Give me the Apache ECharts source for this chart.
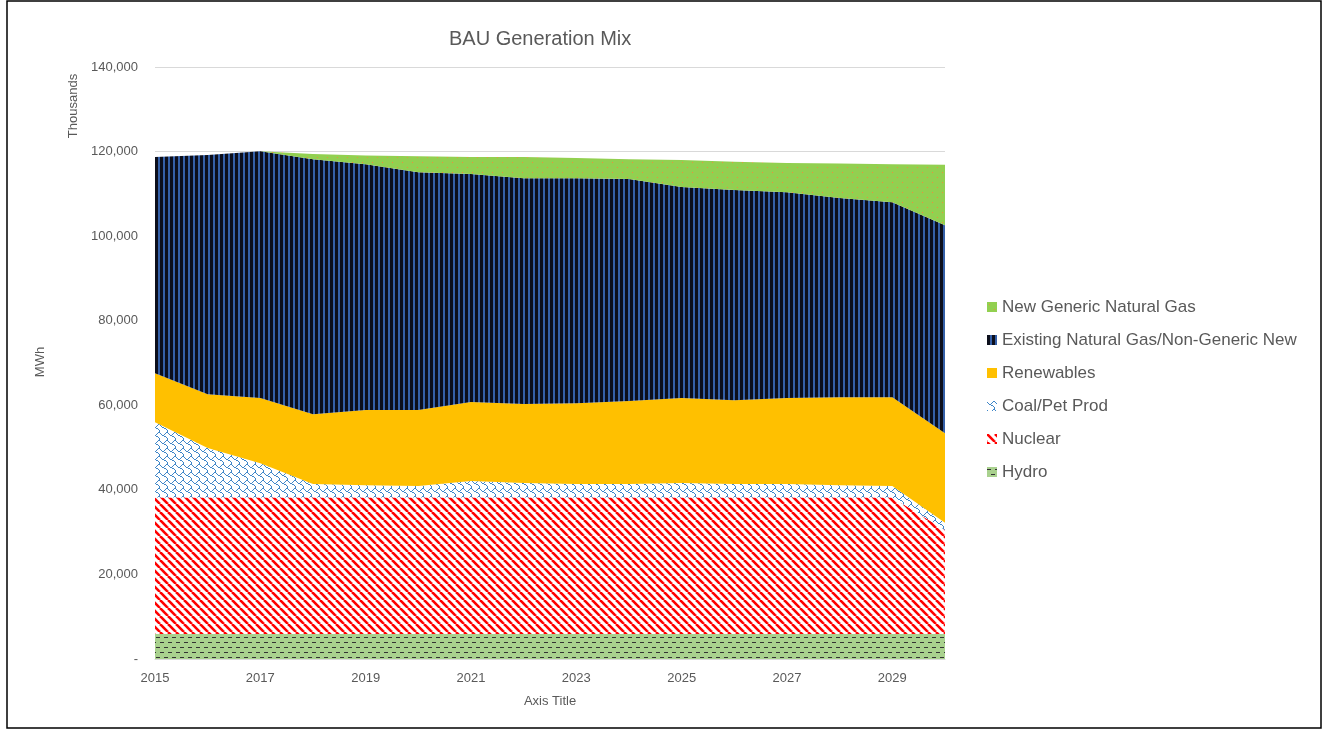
<!DOCTYPE html>
<html><head><meta charset="utf-8">
<script src="https://cdn.jsdelivr.net/npm/echarts@6/dist/echarts.min.js"></script>
<style>html,body{margin:0;padding:0;background:#fff}#c{width:1328px;height:732px}</style>
</head><body><div id="c"></div>
<script>
// Values in thousands of MWh
const years = ['2015','2016','2017','2018','2019','2020','2021','2022','2023','2024','2025','2026','2027','2028','2029','2030'];
const hydro      = [5900,5900,5900,5900,5900,5900,5900,5900,5900,5900,5900,5900,5900,5900,5900,5900];
const nuclear    = [32300,32300,32300,32300,32300,32300,32300,32300,32300,32300,32300,32300,32300,32300,32300,24600];
const coal       = [17800,11700,8100,3200,2900,2700,3900,3400,3200,3200,3400,3200,3200,2900,2700,1700];
const renewables = [11600,12700,15400,16500,17800,18000,18700,18700,19100,19600,20100,19800,20300,20800,21000,21200];
const existingNG = [51100,56600,58400,60300,58100,56200,53900,53400,53200,52500,49900,49700,48700,47100,46100,49200];
const newGenNG   = [0,0,0,1200,2100,3800,4000,5000,4800,4700,6400,6700,6900,8200,9000,14300];
const yTicks = [0,20000,40000,60000,80000,100000,120000,140000];

function tile(w,h,draw){const c=document.createElement('canvas');c.width=w;c.height=h;const g=c.getContext('2d');draw(g,w,h);return {image:c,repeat:'repeat'};}
const patHydro = tile(8,10,(g)=>{g.fillStyle='#a9d18e';g.fillRect(0,0,8,10);g.fillStyle='#333';g.fillRect(0,2,4,1);g.fillRect(4,7,4,1);});
const patNuclear = tile(8,8,(g,w,h)=>{g.fillStyle='#fff';g.fillRect(0,0,w,h);g.strokeStyle='#ff0000';g.lineWidth=2.6;
  for(const o of [-w,0,w]){g.beginPath();g.moveTo(o,0);g.lineTo(o+w,h);g.stroke();}});
const patCoal = tile(8,8,(g)=>{g.fillStyle='#fff';g.fillRect(0,0,8,8);g.fillStyle='#3f86c8';
  const bits=[0x03,0x84,0x48,0x30,0x0c,0x02,0x01,0x01];
  for(let r=0;r<8;r++)for(let c=0;c<8;c++)if(bits[r]&(0x80>>c))g.fillRect(c,r,1,1);});
const patExist = tile(5,4,(g)=>{g.fillStyle='#0c0f1c';g.fillRect(0,0,5,4);g.fillStyle='#3560a8';g.fillRect(3,0,2,4);});
const patNew = tile(10,10,(g)=>{g.fillStyle='#92d050';g.fillRect(0,0,10,10);g.fillStyle='#f08a3c';g.fillRect(2,2,1,1);g.fillRect(7,7,1,1);});

const font='Liberation Sans';
const txt='#595959';
function mk(name,data,pat){return {name,type:'line',stack:'t',data,symbol:'none',showSymbol:false,
  lineStyle:{width:0},areaStyle:{color:pat,opacity:1},itemStyle:{color:pat},emphasis:{disabled:true}};}

const chart=echarts.init(document.getElementById('c'),null,{renderer:'canvas'});
chart.setOption({
  animation:false,
  grid:{left:155,right:383,top:67,bottom:73},
  legend:{orient:'vertical',left:982,top:292,itemWidth:10,itemHeight:10,itemGap:13,icon:'rect',
    textStyle:{fontFamily:font,fontSize:17,color:txt,lineHeight:20},
    data:['New Generic Natural Gas','Existing Natural Gas/Non-Generic New','Renewables','Coal/Pet Prod','Nuclear','Hydro']},
  xAxis:{type:'category',data:years,boundaryGap:false,
    axisLine:{lineStyle:{color:'#d9d9d9'}},axisTick:{show:false},
    axisLabel:{interval:1,fontFamily:font,fontSize:13,color:txt,margin:13}},
  yAxis:{type:'value',min:yTicks[0],max:yTicks[yTicks.length-1],interval:20000,
    axisLine:{show:false},axisTick:{show:false},
    splitLine:{lineStyle:{color:'#d9d9d9'}},
    axisLabel:{fontFamily:font,fontSize:13,color:txt,margin:17,
      formatter:v=>v===0?'-':v.toLocaleString('en-US')}},
  graphic:[
    {type:'rect',shape:{x:7,y:1,width:1314,height:727},style:{fill:'none',stroke:'#000',lineWidth:1.5},silent:true},
    {type:'text',left:449,top:29,style:{text:'BAU Generation Mix',font:'20px "Liberation Sans"',fill:txt}},
    {type:'text',x:550,y:701,style:{text:'Axis Title',font:'13px "Liberation Sans"',fill:txt,align:'center',verticalAlign:'middle'}},
    {type:'text',x:40,y:362,rotation:Math.PI/2,style:{text:'MWh',font:'13px "Liberation Sans"',fill:txt,align:'center',verticalAlign:'middle'}},
    {type:'text',x:73,y:106,rotation:Math.PI/2,style:{text:'Thousands',font:'13px "Liberation Sans"',fill:txt,align:'center',verticalAlign:'middle'}}
  ],
  series:[
    mk('Hydro',hydro,patHydro),
    mk('Nuclear',nuclear,patNuclear),
    mk('Coal/Pet Prod',coal,patCoal),
    mk('Renewables',renewables,'#ffc000'),
    mk('Existing Natural Gas/Non-Generic New',existingNG,patExist),
    mk('New Generic Natural Gas',newGenNG,patNew)
  ]
});
</script></body></html>
